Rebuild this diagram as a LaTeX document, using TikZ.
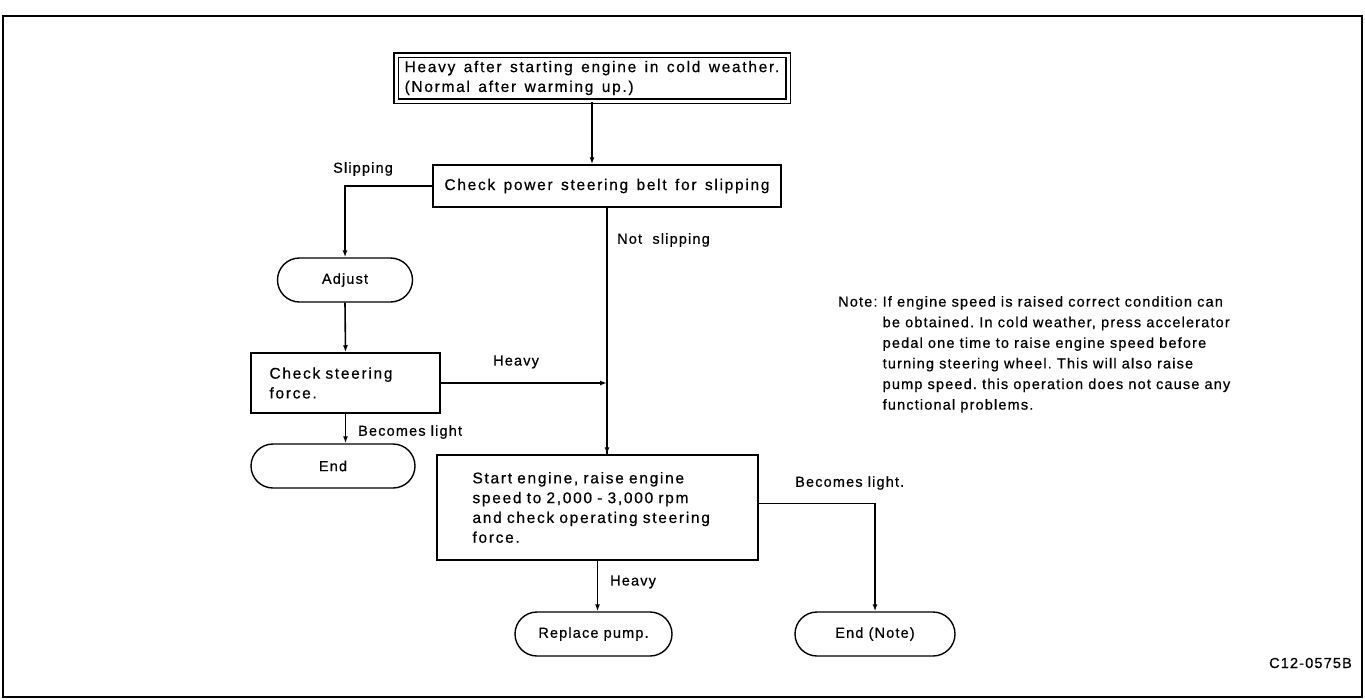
\documentclass[tikz,border=0pt]{standalone}
\usepackage{fontspec}
\setmainfont{Liberation Sans}[LetterSpace=8,FakeBold=0.6]
\newfontfamily\boxfont{Liberation Sans}[LetterSpace=11,WordSpace=1.4,FakeBold=0.6]
\usetikzlibrary{shapes.misc,arrows.meta,calc}
\begin{document}
\frenchspacing
\begin{tikzpicture}[x=1pt,y=-1pt,
  every node/.style={font=\fontsize{14.5}{20.6}\selectfont},
  bigtext/.style={font=\boxfont\fontsize{15.5}{19.8}\selectfont},
  box/.style={draw,line width=1.5pt,rectangle,inner sep=0pt,bigtext},
  term/.style={draw,line width=1.4pt,rounded rectangle,inner sep=0pt},
  lbl/.style={anchor=west,inner sep=0pt},
  conn/.style={line width=1.6pt},
  arr/.style={line width=1.6pt,-{Latex[length=7pt,width=5pt]}}]
\useasboundingbox (0,0) rectangle (1365,699);
\draw[line width=1.6pt] (3,16) rectangle (1362,697);

\node[box,double,double distance=3pt,minimum width=392pt,minimum height=46pt,align=left] (top) at (592,78)
  {Heavy after starting engine in cold weather.\\(Normal after warming up.)};
\node[box,minimum width=348pt,minimum height=42pt] (belt) at (607,186)
  {Check power steering belt for slipping};
\node[term,minimum width=135pt,minimum height=44pt] (adjust) at (345,280) {Adjust};
\node[box,minimum width=189pt,minimum height=60pt,align=left,text width=152pt] (steer) at (345.5,383)
  {Check steering\\force.};
\node[term,minimum width=164pt,minimum height=44pt] (end1) at (333,466) {End};
\node[box,minimum width=321pt,minimum height=105pt,align=left,text width=250pt] (start) at (597.5,507.5)
  {Start engine, raise engine\\speed to 2,000 - 3,000 rpm\\and check operating steering\\force.};
\node[term,minimum width=157pt,minimum height=44pt] (replace) at (593.5,634) {Replace pump.};
\node[term,minimum width=160pt,minimum height=44pt] (endnote) at (875,634) {End (Note)};

\node[anchor=north west,inner sep=0pt] (note) at (838,292)
  {\begin{tabular}{@{}l@{ }l@{}}
   Note: & If engine speed is raised correct condition can\\
   & be obtained. In cold weather, press accelerator\\
   & pedal one time to raise engine speed before\\
   & turning steering wheel. This will also raise\\
   & pump speed. this operation does not cause any\\
   & functional problems.
   \end{tabular}};
\node[anchor=east,inner sep=0pt] (code) at (1352,663) {C12-0575B};

\draw[arr] (top.south) -- (top.south |- belt.north);
\draw[arr] (belt.west) -| (adjust.north);
\node[lbl] (lslip) at (333,169) {Slipping};
\draw[conn] (belt.south) -- (belt.south |- start.north);
\node[lbl] (lnot) at (617,240) {Not\ \ slipping};
\draw[arr] (adjust.south) -- (steer.north);
\draw[arr] (steer.east) -- (steer.east -| belt.south);
\node[lbl] (lheavy1) at (493,362) {Heavy};
\draw[arr] (steer.south) -- (steer.south |- end1.north);
\node[lbl] (llight1) at (358,432) {Becomes light};
\draw[arr] ($(belt.south |- start.north)+(0,-1)$) -- (belt.south |- start.north);
\draw[arr] (start.south) -- (start.south |- replace.north);
\node[lbl] (lheavy2) at (610,582) {Heavy};
\draw[arr] ($(start.east)+(0,-4)$) -| (endnote.north);
\node[lbl] (llight2) at (795,483) {Becomes light.};
\end{tikzpicture}
\end{document}
